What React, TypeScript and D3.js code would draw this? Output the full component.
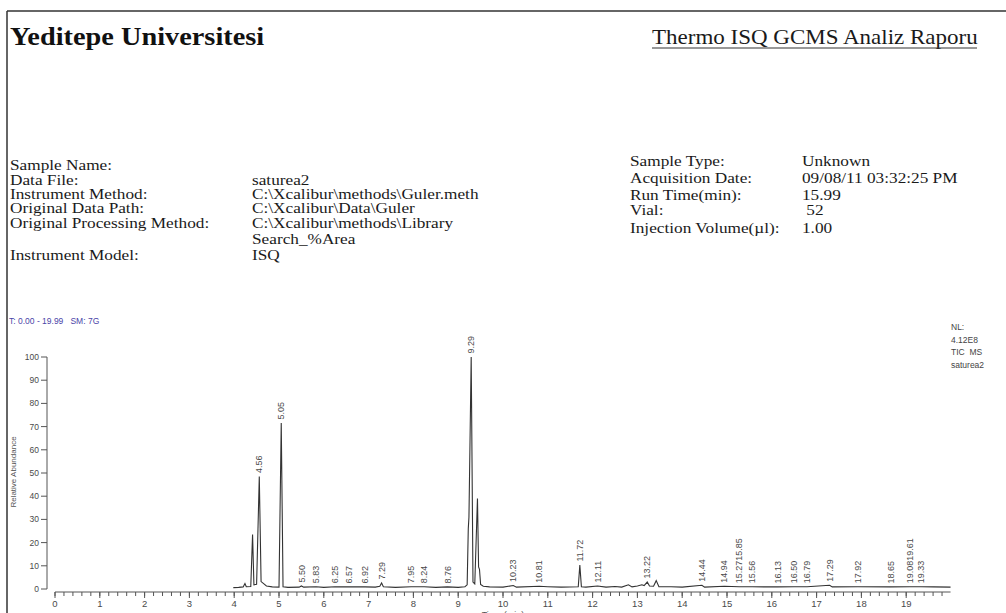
import React from "react";
import * as d3 from "d3";

const W = 1006;
const H = 613;

// TIC trace: [retention time (min), relative abundance (%)]
const ticTrace: [number, number][] = [
  [3.98, 0.6], [4.1, 0.7], [4.2, 0.9], [4.24, 2.4], [4.27, 1.0], [4.37, 1.1],
  [4.41, 23.5], [4.44, 1.8], [4.5, 2.0], [4.56, 48.5], [4.6, 3.2], [4.65, 2.4],
  [4.72, 1.3], [4.85, 0.9], [5.0, 0.8], [5.05, 71.5], [5.09, 1.0], [5.2, 0.7],
  [5.45, 0.8], [5.5, 1.3], [5.55, 0.8], [5.83, 1.0], [6.0, 0.7], [6.25, 1.0],
  [6.57, 0.9], [6.92, 0.9], [7.15, 0.8], [7.25, 1.2], [7.29, 2.6], [7.33, 1.0],
  [7.6, 0.7], [7.95, 1.0], [8.24, 1.0], [8.5, 0.7], [8.76, 0.9], [9.0, 0.7],
  [9.15, 1.0], [9.2, 1.8], [9.225, 26], [9.24, 31], [9.29, 100], [9.33, 3.0],
  [9.37, 2.2], [9.43, 39], [9.455, 9.5], [9.475, 8.5], [9.5, 2.0], [9.56, 1.2],
  [9.7, 0.9], [10.0, 0.8], [10.23, 1.5], [10.3, 0.8], [10.81, 1.2], [11.0, 1.0],
  [11.3, 0.8], [11.68, 1.0], [11.715, 10.3], [11.75, 1.0], [11.85, 0.8],
  [12.11, 1.3], [12.3, 0.8], [12.5, 1.1], [12.65, 0.8], [12.8, 1.8], [12.88, 0.9],
  [13.0, 1.3], [13.1, 1.8], [13.15, 1.5], [13.22, 3.0], [13.27, 1.3], [13.36, 1.2],
  [13.42, 3.6], [13.48, 1.0], [13.75, 1.0], [14.0, 0.8], [14.44, 1.6], [14.5, 0.8],
  [14.94, 1.2], [15.27, 1.0], [15.56, 1.0], [15.85, 0.9], [16.13, 0.9], [16.5, 1.0],
  [16.79, 1.0], [17.29, 1.6], [17.35, 0.9], [17.92, 1.0], [18.65, 0.9], [19.08, 1.0],
  [19.33, 1.0], [19.61, 0.9], [19.99, 0.8],
];

// peak labels: [retention time, abundance under label, text]
const peakLabels: [number, number, string][] = [
  [4.56, 48.5, "4.56"], [5.05, 71.5, "5.05"], [5.5, 1.3, "5.50"], [5.83, 1.0, "5.83"],
  [6.25, 1.0, "6.25"], [6.57, 0.9, "6.57"], [6.92, 0.9, "6.92"], [7.29, 2.6, "7.29"],
  [7.95, 1.0, "7.95"], [8.24, 1.0, "8.24"], [8.76, 0.9, "8.76"], [9.29, 100, "9.29"],
  [10.23, 1.5, "10.23"], [10.81, 1.2, "10.81"], [11.72, 10.3, "11.72"], [12.11, 1.3, "12.11"],
  [13.22, 3.0, "13.22"], [14.44, 1.6, "14.44"], [14.94, 1.2, "14.94"], [15.27, 1.0, "15.2715.85"],
  [15.56, 1.0, "15.56"], [16.13, 0.9, "16.13"], [16.5, 1.0, "16.50"], [16.79, 1.0, "16.79"],
  [17.29, 1.6, "17.29"], [17.92, 1.0, "17.92"], [18.65, 0.9, "18.65"], [19.08, 1.0, "19.0819.61"],
  [19.33, 1.0, "19.33"],
];

const yTicks = [0, 10, 20, 30, 40, 50, 60, 70, 80, 90, 100];
const xTickLabels = d3.range(0, 20);
const xMinorTicks = d3.range(0, 19.9, 0.2);

const leftFields = [
  "Sample Name:", "Data File:", "Instrument Method:", "Original Data Path:",
  "Original Processing Method:", "", "Instrument Model:",
];
const leftValues = [
  "", "saturea2", "C:\\Xcalibur\\methods\\Guler.meth", "C:\\Xcalibur\\Data\\Guler",
  "C:\\Xcalibur\\methods\\Library", "Search_%Area", "ISQ",
];
const leftRowsY = [170, 185, 199, 213, 228, 244, 260];

const rightFields = ["Sample Type:", "Acquisition Date:", "Run Time(min):", "Vial:", "Injection Volume(µl):"];
const rightValues = ["Unknown", "09/08/11 03:32:25 PM", "15.99", " 52", "1.00"];
const rightRowsY = [166, 183, 200, 215, 233];

const infoLines = ["NL:", "4.12E8", "TIC  MS", "saturea2"];

const serif = "'Liberation Serif', 'Times New Roman', serif";
const sans = "'Liberation Sans', Arial, sans-serif";
const SX = 1.15;

const Txt = ({ x, y, size, children }: any) => (
  <text
    transform={`translate(${x},${y}) scale(${SX},1)`}
    fontFamily={serif}
    fontSize={size}
    fill="#1a1a1a"
    style={{ whiteSpace: "pre" }}
  >
    {children}
  </text>
);

const App = () => {
  const x = d3.scaleLinear().domain([0, 19.99]).range([55, 55 + 19.99 * 44.8]);
  const y = d3.scaleLinear().domain([0, 100]).range([589, 357]);
  const line = d3
    .line<[number, number]>()
    .x((d) => x(d[0]))
    .y((d) => y(d[1]));
  const axisY = 592;

  return (
    <svg
      width={W}
      height={H}
      style={{ position: "absolute", left: 0, top: 0, background: "#fff" }}
    >
      {/* page frame */}
      <line x1={7} y1={11} x2={W} y2={11} stroke="#333" strokeWidth={1.5} />
      <line x1={7} y1={11} x2={7} y2={H} stroke="#333" strokeWidth={1.5} />

      {/* header */}
      <text
        transform={`translate(10,45) scale(1.09,1)`}
        fontFamily={serif}
        fontSize={26}
        fontWeight="bold"
        fill="#111"
      >
        Yeditepe Universitesi
      </text>
      <Txt x={652} y={44} size={20}>Thermo ISQ GCMS Analiz Raporu</Txt>
      <line x1={652} y1={48} x2={977} y2={48} stroke="#333" strokeWidth={1.2} />

      {/* sample info */}
      {leftFields.map((f, i) => (
        <g key={"l" + i}>
          <Txt x={10} y={leftRowsY[i]} size={15}>{f}</Txt>
          <Txt x={252} y={leftRowsY[i]} size={15}>{leftValues[i]}</Txt>
        </g>
      ))}
      {rightFields.map((f, i) => (
        <g key={"r" + i}>
          <Txt x={630} y={rightRowsY[i]} size={15}>{f}</Txt>
          <Txt x={802} y={rightRowsY[i]} size={15}>{rightValues[i]}</Txt>
        </g>
      ))}

      {/* chart header texts */}
      <text x={9} y={324} fontFamily={sans} fontSize={8.5} fill="#4a44a8" style={{ whiteSpace: "pre" }}>
        T: 0.00 - 19.99   SM: 7G
      </text>
      {infoLines.map((t, i) => (
        <text
          key={t}
          x={951}
          y={330 + i * 12.5}
          fontFamily={sans}
          fontSize={8.5}
          fill="#444"
          style={{ whiteSpace: "pre" }}
        >
          {t}
        </text>
      ))}

      {/* y axis */}
      <line x1={47} y1={y(0)} x2={47} y2={y(100)} stroke="#555" strokeWidth={1} />
      {yTicks.map((t) => (
        <g key={t}>
          <line x1={41} x2={47} y1={y(t)} y2={y(t)} stroke="#555" />
          <text x={39} y={y(t)} dy="0.35em" textAnchor="end" fontFamily={sans} fontSize={8.5} fill="#4a4a4a">
            {t}
          </text>
        </g>
      ))}
      <text
        transform={`translate(16,472) rotate(-90)`}
        textAnchor="middle"
        fontFamily={sans}
        fontSize={8}
        fill="#555"
      >
        Relative Abundance
      </text>

      {/* x axis */}
      <line x1={x(0)} x2={x(19.99)} y1={axisY} y2={axisY} stroke="#555" strokeWidth={1} />
      {xMinorTicks.map((t) => (
        <line key={t} x1={x(t)} x2={x(t)} y1={axisY} y2={axisY + 4} stroke="#555" />
      ))}
      {xTickLabels.map((t) => (
        <g key={t}>
          <line x1={x(t)} x2={x(t)} y1={axisY} y2={axisY + 6} stroke="#555" />
          <text x={x(t)} y={607} textAnchor="middle" fontFamily={sans} fontSize={9.5} fill="#4a4a4a">
            {t}
          </text>
        </g>
      ))}
      <text x={503} y={618} textAnchor="middle" fontFamily={sans} fontSize={9} fill="#555">
        Time (min)
      </text>

      {/* trace */}
      <path d={line(ticTrace) ?? ""} fill="none" stroke="#333" strokeWidth={1.1} />

      {/* peak labels */}
      {peakLabels.map(([rt, v, t]) => (
        <text
          key={t}
          transform={`translate(${x(rt)},${y(v) - 3.5}) rotate(-90)`}
          dy="0.35em"
          fontFamily={sans}
          fontSize={9}
          fill="#4a4a4a"
        >
          {t}
        </text>
      ))}
    </svg>
  );
};

export default App;
